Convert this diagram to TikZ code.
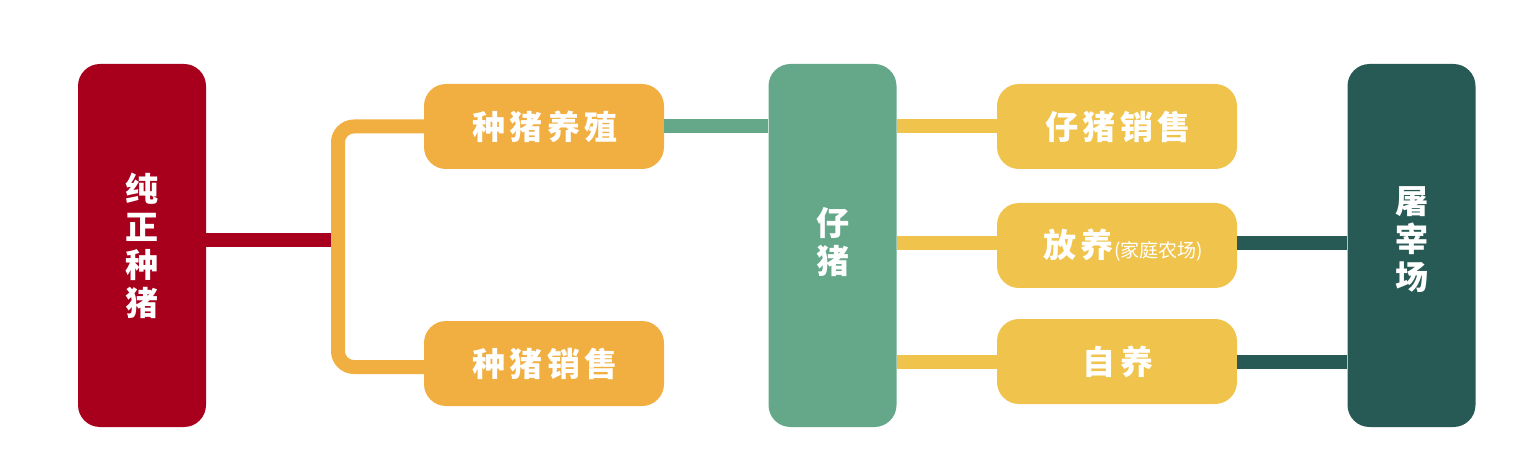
\documentclass[tikz,border=0pt]{standalone}
\usepackage{fontspec}
\newfontfamily\cjk{Noto Sans CJK SC}
\newfontfamily\cjksp{Noto Sans CJK SC}[LetterSpace=13]
\definecolor{cred}{HTML}{A8001C}
\definecolor{corange}{HTML}{F0AF40}
\definecolor{cgreen}{HTML}{65A889}
\definecolor{cyellow}{HTML}{F0C44C}
\definecolor{cdark}{HTML}{285A55}
\begin{document}
\begin{tikzpicture}[x=1pt,y=-1pt,
  tallfont/.style={text=white, align=center, font=\cjk\bfseries\fontsize{33}{38}\selectfont},
  tall/.style={rounded corners=22pt, minimum width=128pt, minimum height=363pt, inner sep=0pt, tallfont},
  wide/.style={rounded corners=22pt, minimum width=240pt, minimum height=85pt, inner sep=0pt, text=white, font=\cjksp\bfseries\fontsize{33}{38}\selectfont},
  link/.style={line width=14pt}]
\useasboundingbox (0,0) rectangle (1539,454);
% nodes
\node[tall, fill=cred] (cz) at (142,245.5) {纯\\正\\种\\猪};
\node[wide, fill=corange] (zb) at (544,126.5) {\hspace{2.1pt}种猪养殖};
\node[wide, fill=corange] (zs) at (544,363.5) {\hspace{2.1pt}种猪销售};
\node[tall, fill=cgreen, label={[tallfont, yshift=3pt]center:仔\\猪}] (zz) at (832.5,245.5) {};
\node[wide, fill=cyellow] (zx) at (1117,126.5) {\hspace{2.1pt}仔猪销售};
\node[wide, fill=cyellow] (fy) at (1117,245.5) {};
\node[wide, fill=cyellow] (zy) at (1117,361.5) {\hspace{2.1pt}自养};
\node[tall, fill=cdark, label={[tallfont, yshift=6pt]center:屠\\宰\\场}] (tz) at (1411.5,245.5) {};
\node[anchor=west, inner sep=0pt, text=white] (fyt) at (1043,245.5)
  {{\cjksp\bfseries\fontsize{33}{38}\selectfont 放养}\hspace{1pt}{\cjk\fontsize{19}{22}\selectfont (家庭农场)}};
% connectors
\coordinate (brk) at (338,240);
\draw[link, cred] (cz.east |- brk) -- (brk);
\draw[link, corange, rounded corners=16pt] (zb.west) -- (338,126.5) -- (338,367) -- (zs.west |- 0,367);
\draw[link, cgreen] (zb.east) -- (zz.west |- zb.east);
\draw[link, cyellow] (zz.east |- zx.west) -- (zx.west);
\draw[link, cyellow] (zz.east |- 0,243) -- (fy.west |- 0,243);
\draw[link, cyellow] (zz.east |- zy.west) -- (zy.west);
\draw[link, cdark] (fy.east |- 0,243) -- (tz.west |- 0,243);
\draw[link, cdark] (zy.east) -- (tz.west |- zy.east);
\end{tikzpicture}
\end{document}
